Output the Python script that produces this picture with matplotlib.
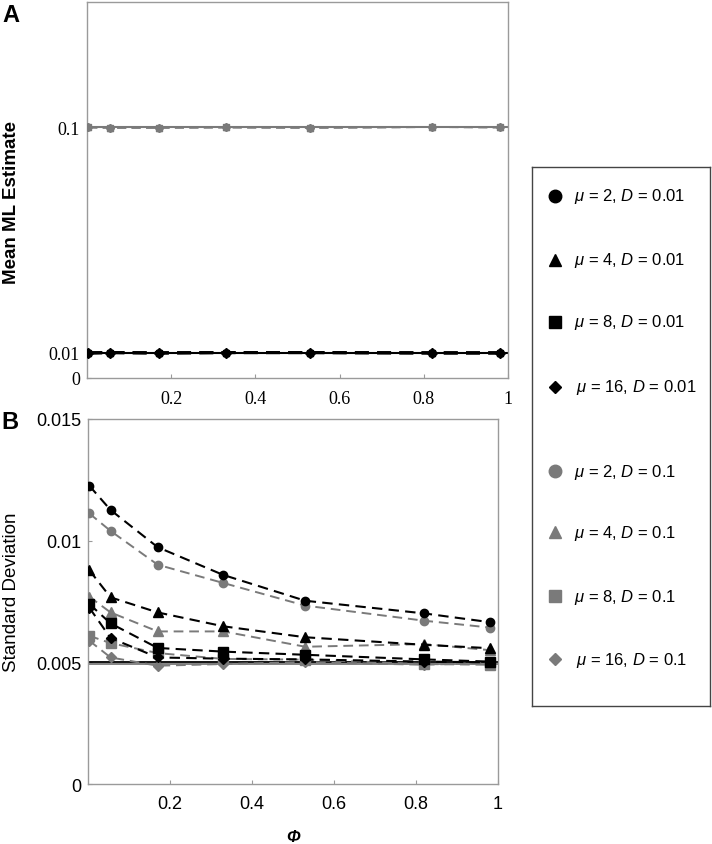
import matplotlib
matplotlib.use("Agg")
import matplotlib.pyplot as plt

plt.rcParams['font.family'] = ['Liberation Sans', 'DejaVu Sans']
plt.rcParams['mathtext.fontset'] = 'custom'
plt.rcParams['mathtext.rm'] = 'Liberation Sans'
plt.rcParams['mathtext.it'] = 'Liberation Sans:italic'

# x values (phi)
phi = [0.003, 0.055, 0.17, 0.33, 0.53, 0.82, 0.98]

mus = [2, 4, 8, 16]
true_D = [0.01, 0.1]

# Panel A: mean ML estimate (all mu overlap at their true D)
mean_D001 = [0.0100, 0.0101, 0.0100, 0.0101, 0.0101, 0.0100, 0.0100]
mean_D01 = [0.1000, 0.0999, 0.0999, 0.1000, 0.0999, 0.1001, 0.1000]

# Panel B: standard deviation of the estimate
sd_mu2_D001 = [0.01226, 0.01126, 0.00973, 0.00859, 0.00753, 0.00701, 0.00665]
sd_mu4_D001 = [0.00879, 0.00767, 0.00705, 0.00648, 0.00603, 0.00572, 0.00558]
sd_mu8_D001 = [0.00740, 0.00660, 0.00559, 0.00544, 0.00531, 0.00512, 0.00503]
sd_mu16_D001 = [0.00725, 0.00600, 0.00520, 0.00515, 0.00512, 0.00503, 0.00500]
sd_mu2_D01 = [0.01112, 0.01040, 0.00901, 0.00826, 0.00733, 0.00671, 0.00643]
sd_mu4_D01 = [0.00770, 0.00705, 0.00627, 0.00627, 0.00564, 0.00575, 0.00550]
sd_mu8_D01 = [0.00609, 0.00579, 0.00538, 0.00514, 0.00511, 0.00493, 0.00490]
sd_mu16_D01 = [0.00589, 0.00520, 0.00486, 0.00493, 0.00501, 0.00490, 0.00498]
sd_ref = [0.00500, 0.00493]

x_ticks = [0.2, 0.4, 0.6, 0.8, 1]
x_ticklabels = ['0.2', '0.4', '0.6', '0.8', '1']
a_yticks = [0, 0.01, 0.1]
a_yticklabels = ['0', '0.01', '0.1']
b_yticks = [0, 0.005, 0.01, 0.015]
b_yticklabels = ['0', '0.005', '0.01', '0.015']

black = '#000000'
gray = '#7a7a7a'
spine = '#9a9a9a'
markers = ['o', '^', 's', 'D']
msizes = [6, 7, 7, 5.5]

sd_low = [sd_mu2_D001, sd_mu4_D001, sd_mu8_D001, sd_mu16_D001]
sd_high = [sd_mu2_D01, sd_mu4_D01, sd_mu8_D01, sd_mu16_D01]

fig = plt.figure(figsize=(7.12, 8.45), dpi=100)
axA = fig.add_axes([0.1222, 0.5515, 0.5913, 0.4450])
axB = fig.add_axes([0.1236, 0.0710, 0.5758, 0.4320])


def style(ax):
    for s in ax.spines.values():
        s.set_color(spine)
        s.set_linewidth(1.0)
    ax.tick_params(direction='in', length=3, color=spine, width=0.8)
    ax.set_xlim(0, 1)
    ax.set_xticks(x_ticks)
    ax.set_xticklabels(x_ticklabels)


# ---- Panel A
style(axA)
axA.set_ylim(0, 0.15)
axA.set_yticks(a_yticks)
axA.set_yticklabels(a_yticklabels)
axA.tick_params(labelsize=13, pad=5)
axA.tick_params(axis='x', pad=9)
for lab in axA.get_xticklabels() + axA.get_yticklabels():
    lab.set_fontfamily('Liberation Serif')
axA.axhline(true_D[1], color=gray, lw=1.5, zorder=2)
axA.axhline(true_D[0], color=black, lw=1.5, zorder=2)
for i in range(3, -1, -1):
    axA.plot(phi, mean_D01, ls=(0, (5, 3)), color=gray, lw=1.3,
             marker=markers[i], ms=4.5, mec=gray, mfc=gray, zorder=3)
    axA.plot(phi, mean_D001, ls=(0, (5, 3)), color=black, lw=2.0,
             marker=markers[i], ms=5, mec=black, mfc=black, zorder=4)

# ---- Panel B
style(axB)
axB.set_ylim(0, 0.015)
axB.set_yticks(b_yticks)
axB.set_yticklabels(b_yticklabels)
axB.tick_params(labelsize=13, pad=5)
axB.tick_params(axis='x', pad=8)
axB.axhline(sd_ref[0], color=black, lw=1.3, zorder=2)
axB.axhline(sd_ref[1], color=gray, lw=1.3, zorder=2)
for i in range(3, -1, -1):
    axB.plot(phi, sd_high[i], ls=(0, (5, 3)), color=gray, lw=1.4,
             marker=markers[i], ms=msizes[i], mec=gray, mfc=gray, zorder=3)
    axB.plot(phi, sd_low[i], ls=(0, (5, 3)), color=black, lw=1.5,
             marker=markers[i], ms=msizes[i], mec=black, mfc=black, zorder=4)
axB.set_xlabel('Φ', fontsize=12, style='italic', fontweight='bold', labelpad=12)

# panel letters and y labels
fig.text(0.015, 0.982, 'A', fontsize=17, fontweight='bold', ha='center', va='center')
fig.text(0.014, 0.500, 'B', fontsize=17, fontweight='bold', ha='center', va='center')
fig.text(0.016, 0.760, 'Mean ML Estimate', rotation=90, fontsize=13.5,
         fontweight='bold', ha='center', va='center')
fig.text(0.016, 0.299, 'Standard Deviation', rotation=90, fontsize=13.5,
         ha='center', va='center')

# ---- legend box
axL = fig.add_axes([0.7472, 0.1633, 0.25, 0.6379])
axL.set_xlim(532, 710)
axL.set_ylim(707, 168)
axL.set_xticks([])
axL.set_yticks([])
for s in axL.spines.values():
    s.set_color('#444444')
    s.set_linewidth(1.0)
leg_rows = [197, 261, 323, 388, 472, 533, 597, 660]
leg_ms = [9, 8, 8, 6.5]
for g, (D, col) in enumerate([('0.01', black), ('0.1', gray)]):
    for i, mu in enumerate(mus):
        y = leg_rows[g * 4 + i]
        axL.plot([555], [y], marker=markers[i], ms=leg_ms[i], color=col, ls='none')
        axL.text(574 if mu < 10 else 576, y, rf'$\mu$ = {mu}, $D$ = {D}',
                 fontsize=12, va='center', ha='left')

fig.savefig('out.png', dpi=100)
